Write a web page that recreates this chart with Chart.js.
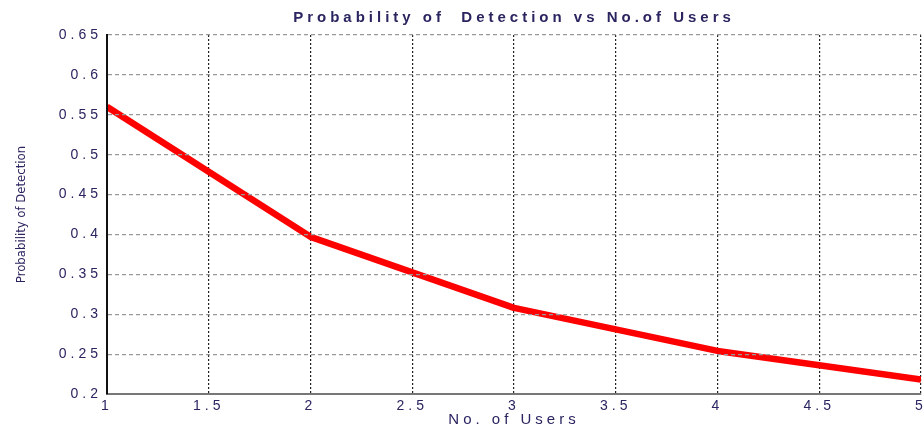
<!DOCTYPE html>
<html><head><meta charset="utf-8">
<script src="https://cdn.jsdelivr.net/npm/chart.js@4"></script>
<style>html,body{margin:0;padding:0;background:#fff;}canvas{display:block}</style>
</head><body>
<canvas id="c" width="924" height="435"></canvas>
<script>
const users = [1, 2, 3, 4, 5];
const probDetection = [0.56, 0.397, 0.308, 0.254, 0.218];
const xTickValues = [1, 1.5, 2, 2.5, 3, 3.5, 4, 4.5, 5];
const yTickValues = [0.2, 0.25, 0.3, 0.35, 0.4, 0.45, 0.5, 0.55, 0.6, 0.65];
const chartTitle = 'Probability of  Detection vs No.of Users';
const xTitle = 'No. of Users';
const yTitle = 'Probability of Detection';

const textColor = '#2a2560';

const spacingPlugin = {
  id: 'spacing',
  beforeDraw(c) { c.ctx.letterSpacing = '4px'; },
  afterDatasetsDraw(c) { c.ctx.letterSpacing = '0px'; },
  afterDraw(c) { c.ctx.letterSpacing = '0px'; }
};

const fmt = v => String(+(+v).toFixed(2));

new Chart(document.getElementById('c'), {
  type: 'line',
  data: {
    datasets: [{
      data: users.map((u, i) => ({ x: u, y: probDetection[i] })),
      borderColor: '#ff0000',
      borderWidth: 6.5,
      pointRadius: 0,
      tension: 0,
      borderJoinStyle: 'round',
      fill: false
    }]
  },
  options: {
    responsive: false,
    animation: false,
    layout: { padding: { left: 0, right: 3, top: 0, bottom: 0 } },
    plugins: {
      legend: { display: false },
      tooltip: { enabled: false },
      title: { display: false }
    },
    scales: {
      x: {
        type: 'linear', min: 1, max: 5,
        afterBuildTicks: s => { s.ticks = xTickValues.map(v => ({ value: v })); },
        afterFit: s => { s.height = 41; s.paddingLeft = 0; s.paddingRight = 0; },
        ticks: {
          color: textColor, padding: 4, maxRotation: 0, autoSkip: false,
          font: { family: 'Liberation Sans', size: 14 },
          callback: fmt
        },
        grid: { color: '#222', lineWidth: 1.2, drawTicks: false, z: -1 },
        border: { display: true, color: '#777', width: 2, dash: [2, 2], z: 2 },
        title: {
          display: true, text: xTitle, color: textColor,
          font: { family: 'Liberation Sans', size: 15 },
          padding: { top: 0, bottom: 6 }
        }
      },
      xTop: {
        type: 'linear', position: 'top', min: 1, max: 5,
        afterFit: s => { s.height = 35; s.paddingLeft = 0; s.paddingRight = 0; },
        ticks: { display: false },
        grid: { display: false, drawTicks: false },
        border: { display: false },
        title: {
          display: true, text: chartTitle, color: textColor,
          font: { family: 'Liberation Sans', size: 15, weight: 'bold' },
          padding: { top: 9, bottom: 0 }
        }
      },
      y: {
        type: 'linear', min: 0.2, max: 0.65,
        afterBuildTicks: s => { s.ticks = yTickValues.map(v => ({ value: v })); },
        afterFit: s => { s.width = 107; s.paddingTop = 0; s.paddingBottom = 0; },
        ticks: {
          color: textColor, padding: 5, autoSkip: false,
          font: { family: 'Liberation Sans', size: 14 },
          callback: fmt
        },
        grid: { color: '#999', lineWidth: 1.2, drawTicks: false, z: 1 },
        border: { display: true, color: '#111', width: 2, dash: [4, 3], z: 2 },
        title: {
          display: true, text: yTitle, color: textColor,
          font: { family: "'DejaVu Sans Condensed', 'Liberation Sans'", size: 13 },
          padding: { top: 14, bottom: 0 }
        }
      }
    }
  },
  plugins: [spacingPlugin]
});
</script>
</body></html>
